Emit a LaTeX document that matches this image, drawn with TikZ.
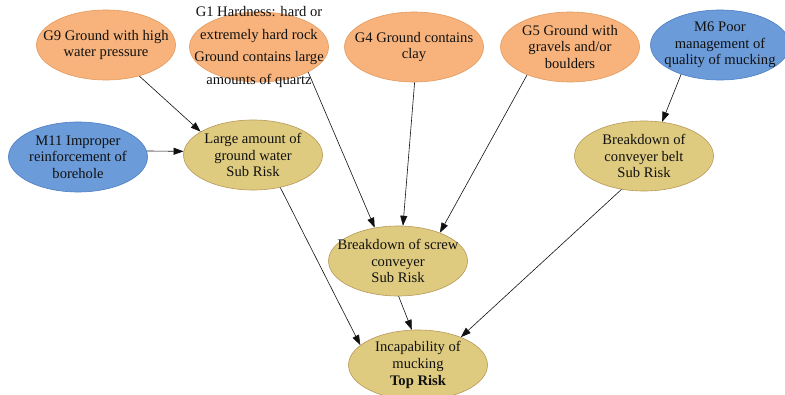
\documentclass[tikz,border=0pt]{standalone}
\usepackage{fontspec}
\setmainfont{Liberation Serif}
\usetikzlibrary{arrows.meta,shapes.geometric}
\definecolor{orangefill}{HTML}{F7B37B}
\definecolor{orangeline}{HTML}{E39A5E}
\definecolor{bluefill}{HTML}{6B9BD9}
\definecolor{blueline}{HTML}{4C7EC4}
\definecolor{riskfill}{HTML}{DECB7F}
\definecolor{riskline}{HTML}{B8985A}
\definecolor{ink}{HTML}{111111}
\tikzset{
  base/.style={ellipse, line width=0.6pt, inner sep=-20pt, minimum width=139pt,
    minimum height=70pt, align=center, text=ink, font=\fontsize{14.6}{16.6}\selectfont},
  ground/.style={base, fill=orangefill, draw=orangeline},
  manage/.style={base, fill=bluefill, draw=blueline},
  risk/.style={base, fill=riskfill, draw=riskline},
  link/.style={-{Triangle[length=10pt,width=7pt]}, line width=0.6pt, draw=ink}
}

\begin{document}
\begin{tikzpicture}[x=1pt, y=-1pt]
  \path[use as bounding box, fill=white] (0,0) rectangle (785,395);

  % causes (ground and management)
  \node[ground] (g9) at (106,45) {G9 Ground with high\\water pressure};
  \node[ground, font=\fontsize{14.6}{22.5}\selectfont] (g1) at (259,47)
    {G1 Hardness: hard or\\extremely hard rock\\Ground contains large\\amounts of quartz};
  \node[ground] (g4) at (414,47) {G4 Ground contains\\clay};
  \node[ground] (g5) at (570,47) {G5 Ground with\\gravels and/or\\boulders};
  \node[manage] (m6) at (720,45) {M6 Poor\\management of\\quality of mucking};
  \node[manage] (m11) at (78,157) {M11 Improper\\reinforcement of\\borehole};

  % sub risks
  \node[risk] (water) at (253,155) {Large amount of\\ground water\\Sub Risk};
  \node[risk] (belt) at (644,156) {Breakdown of\\conveyer belt\\Sub Risk};
  \node[risk] (screw) at (398,261) {Breakdown of screw\\conveyer\\Sub Risk};

  % top risk
  \node[risk] (top) at (418,365) {Incapability of\\mucking\\\textbf{Top Risk}};

  \draw[link] (g9.-43) -- (water.156);
  \draw[link] (g1.-27) -- (screw.125);
  \draw[link] (g4.-89) -- (screw.82);
  \draw[link] (g5.-147) -- (screw.34);
  \draw[link] (m6.-143) -- (belt.62);
  \draw[link] (m11.5) -- (water.177);
  \draw[link] (water.-50) -- (top.161);
  \draw[link] (screw.-89) -- (top.100);
  \draw[link] (belt.-124) -- (top.33);
\end{tikzpicture}
\end{document}
